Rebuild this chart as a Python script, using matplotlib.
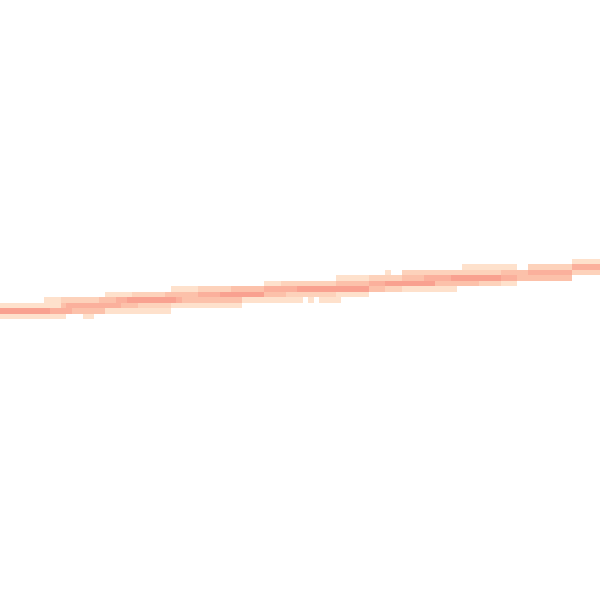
import numpy as np
import matplotlib
matplotlib.use("Agg")
import matplotlib.pyplot as plt
from matplotlib.colors import ListedColormap, BoundaryNorm

# 2D histogram grid (109 x 109 bins), only the occupied band is listed.
N_ROWS = 109
N_COLS = 109

# runs of non-empty bins: row (0 = top), first and last column, count level
band_rows = [47, 48, 48, 48,
             49, 49, 49, 49, 49, 49,
             50, 50, 50, 50, 50, 50, 50,
             51, 51, 51, 51, 51, 51, 51, 51,
             52, 52, 52, 52, 52, 52, 52, 52,
             53, 53, 53, 53, 53, 53, 53, 53,
             54, 54, 54, 54, 54, 54, 54, 54, 54, 54,
             55, 55, 55, 55, 55, 55, 55,
             56, 56, 56, 56,
             57, 57]
band_first = [104, 84, 96, 104,
              70, 73, 91, 94, 96, 104,
              61, 67, 73, 77, 82, 91, 94,
              48, 51, 61, 67, 70, 79, 87, 91,
              31, 36, 42, 48, 54, 67, 70, 73,
              19, 24, 30, 36, 40, 48, 52, 61,
              8, 11, 18, 21, 23, 32, 33, 44, 56, 58,
              0, 11, 12, 19, 22, 25, 31,
              0, 9, 13, 19,
              0, 15]
band_last = [108, 93, 103, 108,
             70, 90, 93, 95, 103, 108,
             66, 72, 76, 81, 90, 93, 103,
             50, 60, 66, 69, 78, 86, 90, 93,
             35, 41, 47, 53, 66, 69, 72, 82,
             23, 29, 35, 39, 47, 51, 60, 66,
             10, 17, 20, 22, 31, 32, 43, 54, 56, 61,
             10, 11, 18, 21, 24, 30, 43,
             8, 12, 18, 30,
             11, 16]
band_level = [1, 1, 2, 4,
              1, 2, 3, 3, 4, 2,
              1, 2, 3, 4, 5, 4, 3,
              1, 2, 3, 4, 5, 3, 2, 1,
              1, 2, 3, 4, 5, 3, 2, 1,
              1, 2, 3, 4, 5, 3, 2, 1,
              1, 2, 3, 4, 5, 4, 3, 1, 1, 1,
              1, 3, 4, 4, 3, 2, 1,
              5, 4, 3, 1,
              1, 1]

counts = np.zeros((N_ROWS, N_COLS))
for r, c0, c1, lv in zip(band_rows, band_first, band_last, band_level):
    counts[r, c0:c1 + 1] = lv

grid = np.ma.masked_equal(counts, 0)

# pale peach to salmon, one shade per level
cmap = ListedColormap(["#fee1cc", "#fdd2bb", "#fcc1aa", "#fbb09c", "#f9a190"])
cmap.set_bad("white")
norm = BoundaryNorm(np.arange(0.5, 6.5, 1.0), cmap.N)

fig = plt.figure(figsize=(6, 6), dpi=100)
ax = fig.add_axes([0, 0, 1, 1])
ax.imshow(grid, cmap=cmap, norm=norm, interpolation="nearest", aspect="auto")
ax.set_axis_off()
fig.savefig("out.png", dpi=100, facecolor="white")
